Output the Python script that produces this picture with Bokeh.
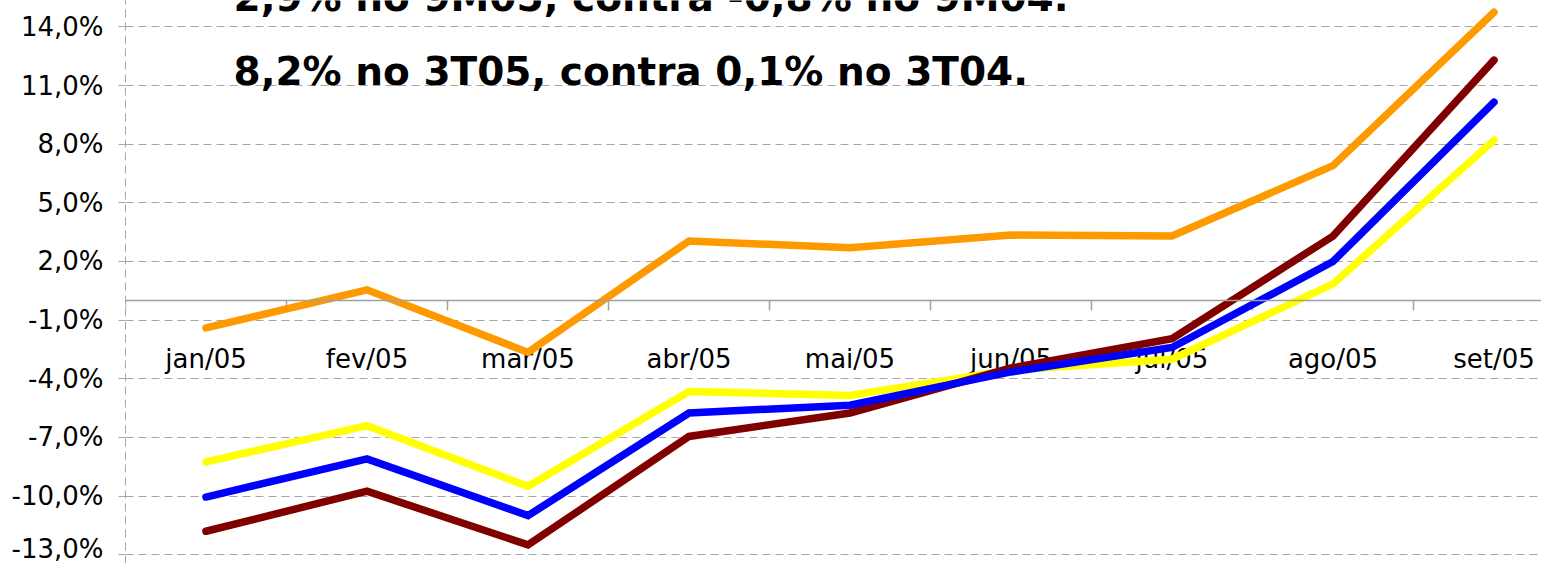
from bokeh.plotting import figure
from bokeh.models import FixedTicker, Span, Label, Range1d
from bokeh.core.properties import value
from bokeh.embed import file_html
from bokeh.resources import INLINE

# ---- data ----
categories = ["jan/05", "fev/05", "mar/05", "abr/05", "mai/05",
              "jun/05", "jul/05", "ago/05", "set/05"]
serie_laranja = [-1.4, 0.55, -2.65, 3.05, 2.7, 3.35, 3.3, 6.9, 14.75]
serie_amarela = [-8.25, -6.4, -9.5, -4.65, -4.85, -3.55, -3.0, 0.85, 8.2]
serie_vinho = [-11.8, -9.75, -12.5, -6.95, -5.75, -3.45, -1.95, 3.3, 12.3]
serie_azul = [-10.05, -8.1, -11.0, -5.75, -5.35, -3.65, -2.4, 2.0, 10.15]
y_ticks = [-13, -10, -7, -4, -1, 2, 5, 8, 11, 14]
y_tick_labels = ["-13,0%", "-10,0%", "-7,0%", "-4,0%", "-1,0%",
                 "2,0%", "5,0%", "8,0%", "11,0%", "14,0%"]
titulo_1 = "2,9% no 9M05, contra -0,8% no 9M04."
titulo_2 = "8,2% no 3T05, contra 0,1% no 3T04."

GRID = "#A6A6A6"
FONT = "DejaVu Sans"

xs = [i + 0.5 for i in range(len(categories))]
bounds = list(range(len(categories) + 1))

p = figure(width=1541, height=563, output_backend="svg", toolbar_location=None,
           x_range=Range1d(0, 8.795), y_range=Range1d(-13.45, 15.35),
           x_axis_location=None,
           min_border_left=125, min_border_right=0,
           min_border_top=0, min_border_bottom=0)
p.outline_line_color = None
p.background_fill_color = "white"
p.border_fill_color = "white"
p.xgrid.visible = False

# y axis
p.yaxis.ticker = FixedTicker(ticks=y_ticks, minor_ticks=[])
p.yaxis.major_label_overrides = {t: l for t, l in zip(y_ticks, y_tick_labels)}
p.yaxis.axis_line_color = GRID
p.yaxis.axis_line_dash = "8 5"
p.yaxis.axis_line_width = 1
p.yaxis.major_tick_out = 7
p.yaxis.major_tick_in = 0
p.yaxis.major_tick_line_color = GRID
p.yaxis.minor_tick_line_color = None
p.yaxis.major_label_text_font = FONT
p.yaxis.major_label_text_font_size = "26px"
p.yaxis.major_label_text_color = "black"
p.yaxis.major_label_standoff = 15

p.ygrid.grid_line_color = GRID
p.ygrid.grid_line_dash = "8 5"
p.ygrid.grid_line_width = 1

# zero axis line with category boundary ticks
p.add_layout(Span(location=0, dimension="width", line_color="#A0A0A0", line_width=1.5))
p.segment(x0=bounds, y0=[0] * len(bounds), x1=bounds, y1=[-0.5] * len(bounds),
          line_color="#A0A0A0", line_width=1.5)

# category labels
p.text(x=xs, y=[-3.0] * len(xs), text=categories,
       text_align="center", text_baseline="alphabetic",
       text_font=value(FONT), text_font_size="26px", text_color="black")

# series
for vals, col in [(serie_laranja, "#FF9900"), (serie_amarela, "#FFFF00"),
                  (serie_vinho, "#800000"), (serie_azul, "#0000FF")]:
    p.line(xs, vals, line_color=col, line_width=7.5, line_cap="round", line_join="miter")

# titles
for txt, yy in [(titulo_1, 15.5), (titulo_2, 11.72)]:
    p.add_layout(Label(x=0.671, y=yy, text=txt, text_font=FONT, text_font_style="bold",
                       text_font_size="39px", text_color="black",
                       text_baseline="alphabetic", text_align="left"))

open("out.html", "w").write(file_html(p, INLINE))
